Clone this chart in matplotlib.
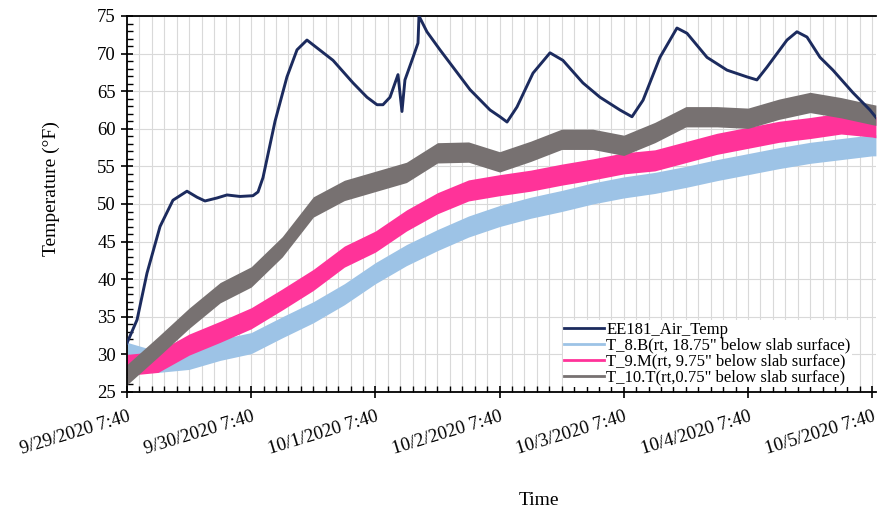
import datetime as dt
import matplotlib
matplotlib.use("Agg")
import matplotlib.pyplot as plt
from matplotlib.ticker import MultipleLocator, FuncFormatter

START = dt.datetime(2020, 9, 29, 7, 40)

# air temperature trace (days after start, deg F)
air_days = [0.000, 0.081, 0.161, 0.266, 0.370, 0.483, 0.564, 0.628, 0.725, 0.805,
            0.910, 1.014, 1.055, 1.095, 1.192, 1.288, 1.369, 1.449, 1.659, 1.820,
            1.932, 2.013, 2.061, 2.118, 2.182, 2.214, 2.238, 2.303, 2.343, 2.351,
            2.415, 2.520, 2.625, 2.762, 2.923, 3.003, 3.060, 3.140, 3.269, 3.406,
            3.510, 3.671, 3.808, 3.969, 4.066, 4.155, 4.291, 4.428, 4.509, 4.670,
            4.831, 4.992, 5.072, 5.153, 5.314, 5.394, 5.475, 5.580, 5.684, 5.845,
            5.982, 6.031]
air_temp = [31.5, 34.6, 40.8, 47.0, 50.5, 51.7, 50.9, 50.4, 50.8, 51.2,
            51.0, 51.1, 51.6, 53.5, 61.0, 66.9, 70.5, 71.8, 69.1, 66.1,
            64.2, 63.2, 63.2, 64.2, 67.2, 62.3, 66.5, 69.5, 71.4, 75.0,
            72.9, 70.5, 68.2, 65.2, 62.5, 61.6, 60.9, 62.9, 67.4, 70.1,
            69.1, 66.1, 64.2, 62.5, 61.6, 63.8, 69.5, 73.4, 72.7, 69.5,
            67.8, 66.9, 66.5, 68.2, 71.8, 72.9, 72.2, 69.5, 67.8, 64.8,
            62.5, 61.5]

# slab sensors: band centre every 6 h plus the last reading
slab_days = [0, 0.25, 0.5, 0.75, 1.0, 1.25, 1.5, 1.75, 2.0, 2.25, 2.5, 2.75, 3.0,
             3.25, 3.5, 3.75, 4.0, 4.25, 4.5, 4.75, 5.0, 5.25, 5.5, 5.75, 6.0, 6.03]
t8b = [30.2, 29.0, 29.4, 30.6, 31.5, 33.6, 35.6, 38.0, 40.8, 43.2, 45.2, 47.0, 48.4,
       49.5, 50.4, 51.4, 52.2, 52.8, 53.6, 54.5, 55.3, 56.1, 56.8, 57.3, 57.8, 57.8]
t9m = [28.6, 29.0, 31.3, 33.0, 34.8, 37.3, 39.9, 43.0, 45.0, 47.8, 50.1, 51.8, 52.5,
       53.1, 53.9, 54.6, 55.4, 55.8, 56.9, 58.0, 58.8, 59.6, 60.1, 60.7, 60.3, 60.2]
t10t = [27.3, 31.0, 34.8, 38.2, 40.3, 44.3, 49.6, 51.8, 53.0, 54.2, 56.8, 56.9, 55.6,
        57.0, 58.6, 58.6, 57.8, 59.5, 61.6, 61.6, 61.4, 62.6, 63.5, 62.8, 61.9, 61.8]
# half thickness of the noisy band (deg F)
spread = {"t8b": 1.4, "t9m": 1.4, "t10t": 1.35}

labels = ["EE181_Air_Temp",
          'T_8.B(rt, 18.75" below slab surface)',
          'T_9.M(rt, 9.75" below slab surface)',
          'T_10.T(rt,0.75" below slab surface)']
colors = ["#1c2b5e", "#9dc3e6", "#ff3399", "#777171"]

plt.rcParams["font.family"] = ["Liberation Serif", "DejaVu Serif"]

fig = plt.figure(figsize=(8.77, 5.14), dpi=100)
ax = fig.add_axes([0.1448, 0.2374, 0.8541, 0.7315])

ax.plot(air_days, air_temp, color=colors[0], lw=2.1, label=labels[0], zorder=3)
for vals, key, c, lab in [(t8b, "t8b", colors[1], labels[1]),
                          (t9m, "t9m", colors[2], labels[2]),
                          (t10t, "t10t", colors[3], labels[3])]:
    lo = [v - spread[key] for v in vals]
    hi = [v + spread[key] for v in vals]
    ax.fill_between(slab_days, lo, hi, color=c, lw=0, zorder=2)
    ax.plot(slab_days, vals, color=c, lw=2, label=lab, zorder=2)

ax.set_xlim(0, 6.031)
ax.set_ylim(25, 75)
ax.xaxis.set_major_locator(MultipleLocator(1))
ax.xaxis.set_minor_locator(MultipleLocator(0.1))
ax.yaxis.set_major_locator(MultipleLocator(5))
ax.yaxis.set_minor_locator(MultipleLocator(1))


def fmt_day(x, pos):
    d = START + dt.timedelta(days=x)
    return f"{d.month}/{d.day}/{d.year} {d.hour}:{d.minute:02d}"


ax.xaxis.set_major_formatter(FuncFormatter(fmt_day))
ax.grid(True, which="minor", axis="x", color="#d9d9d9", lw=0.8, zorder=0)
ax.grid(True, which="major", axis="x", color="#d9d9d9", lw=0.8, zorder=0)
ax.grid(True, which="major", axis="y", color="#d9d9d9", lw=0.8, zorder=0)
ax.set_axisbelow(True)

ax.tick_params(which="major", direction="inout", length=9, width=1.2, labelsize=13.5)
ax.tick_params(which="minor", direction="in", length=4, width=1)
ax.tick_params(axis="y", which="both", right=False)
ax.tick_params(axis="x", which="major", pad=7)
for lab in ax.get_xticklabels():
    lab.set_rotation(17)
    lab.set_ha("right")
    lab.set_rotation_mode("anchor")

for s in ["left", "bottom", "top"]:
    ax.spines[s].set_linewidth(1.3)
    ax.spines[s].set_color("black")
ax.spines["right"].set_visible(False)

ax.set_ylabel("Temperature (°F)", fontsize=14)
ax.yaxis.set_label_coords(-0.09, 0.54)
ax.set_xlabel("Time", fontsize=14)
ax.xaxis.set_label_coords(0.55, -0.265)

leg = ax.legend(loc="lower right", bbox_to_anchor=(0.968, 0.012), fontsize=12,
                frameon=True, framealpha=1, edgecolor="none", facecolor="white",
                handlelength=2.4, handletextpad=0.1, labelspacing=0.0,
                borderpad=0.1, borderaxespad=0)
for h in leg.get_lines():
    h.set_linewidth(2)

fig.savefig("out.png", dpi=100)
